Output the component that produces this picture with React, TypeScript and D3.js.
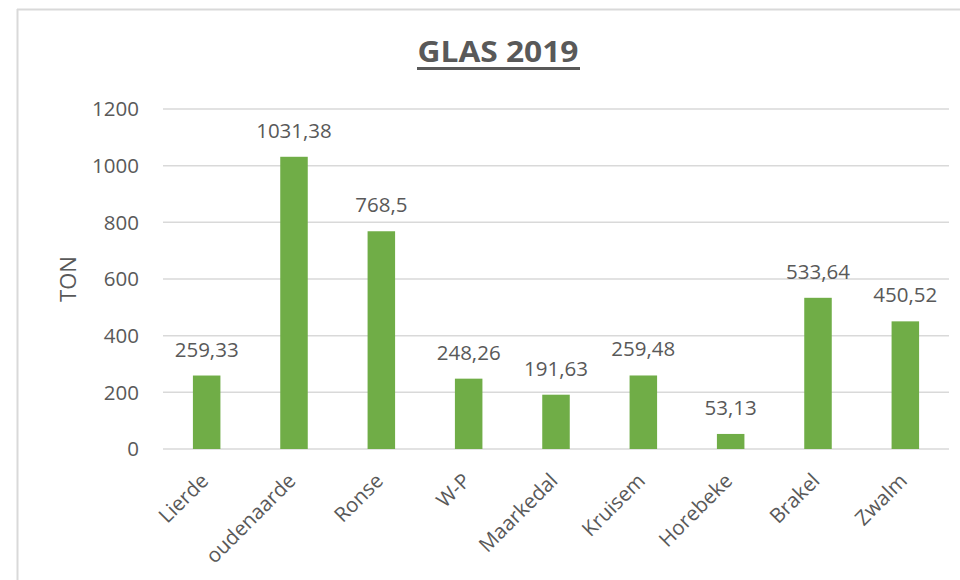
import React from "react";
import * as d3 from "d3";

const categories = ["Lierde", "oudenaarde", "Ronse", "W-P", "Maarkedal", "Kruisem", "Horebeke", "Brakel", "Zwalm"];
const values = [259.33, 1031.38, 768.5, 248.26, 191.63, 259.48, 53.13, 533.64, 450.52];
const valueLabels = ["259,33", "1031,38", "768,5", "248,26", "191,63", "259,48", "53,13", "533,64", "450,52"];
const yTicks = [0, 200, 400, 600, 800, 1000, 1200];
const title = "GLAS 2019";
const yTitle = "TON";

const W = 960;
const H = 580;
const plot = { left: 163, right: 949, top: 109, bottom: 449 };
const textColor = "#595959";
const gridColor = "#d9d9d9";
const barColor = "#70ad47";
const font = "'Open Sans', 'Segoe UI', sans-serif";

export default function App() {
  const x = d3
    .scaleBand<string>()
    .domain(categories)
    .range([plot.left, plot.right])
    .paddingInner(0.685)
    .paddingOuter(0.685 / 2);
  const y = d3.scaleLinear().domain([0, 1200]).range([plot.bottom, plot.top]);

  return (
    <svg
      width={W}
      height={H}
      style={{ position: "absolute", left: 0, top: 0, background: "#fff" }}
      fontFamily={font}
    >
      <rect x={0} y={0} width={W} height={H} fill="#fff" />
      {/* frame */}
      <line x1={17} y1={9.5} x2={W} y2={9.5} stroke={gridColor} strokeWidth={2} />
      <line x1={17.5} y1={9} x2={17.5} y2={H} stroke={gridColor} strokeWidth={2} />

      {/* title */}
      <text
        x={498}
        y={62}
        textAnchor="middle"
        fontSize={29}
        fontWeight="bold"
        fill={textColor}
        textLength={161}
        lengthAdjust="spacingAndGlyphs"
      >
        {title}
      </text>
      <rect x={417} y={67} width={163} height={3} fill={textColor} />

      {/* gridlines and y ticks */}
      {yTicks.map((t) => (
        <g key={t}>
          <line
            x1={plot.left}
            x2={plot.right}
            y1={y(t)}
            y2={y(t)}
            stroke={gridColor}
            strokeWidth={1.5}
          />
          <text
            x={139}
            y={y(t)}
            dy="0.36em"
            textAnchor="end"
            fontSize={20.5}
            fill={textColor}
          >
            {t}
          </text>
        </g>
      ))}

      {/* y title */}
      <text
        transform={`translate(76, ${(plot.top + plot.bottom) / 2}) rotate(-90)`}
        textAnchor="middle"
        fontSize={22}
        fill={textColor}
      >
        {yTitle}
      </text>

      {/* bars */}
      {categories.map((c, i) => {
        const bx = x(c)!;
        const bw = x.bandwidth();
        const top = y(values[i]);
        return (
          <g key={c}>
            <rect x={bx} y={top} width={bw} height={y(0) - top} fill={barColor} />
            <text
              x={bx + bw / 2}
              y={top - 19}
              textAnchor="middle"
              fontSize={20.5}
              fill={textColor}
            >
              {valueLabels[i]}
            </text>
            <text
              transform={`translate(${bx + bw / 2 + 3}, 482) rotate(-45)`}
              textAnchor="end"
              fontSize={20.5}
              fill={textColor}
            >
              {c}
            </text>
          </g>
        );
      })}
    </svg>
  );
}
